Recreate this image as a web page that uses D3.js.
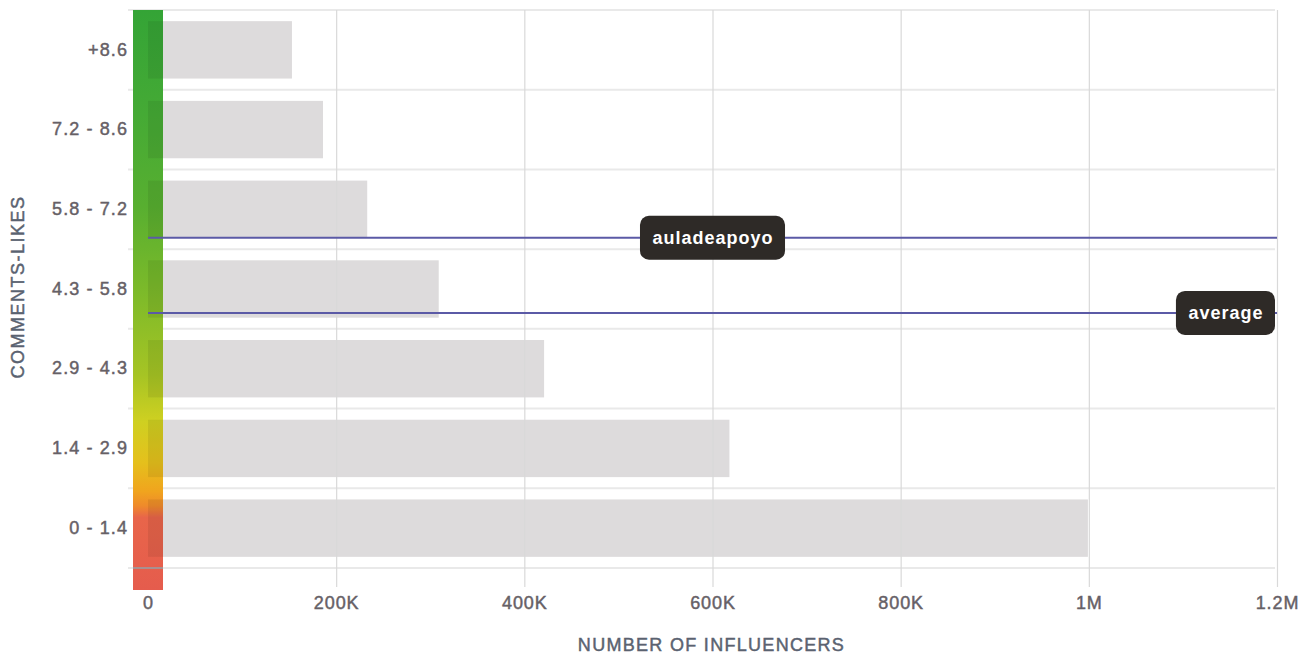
<!DOCTYPE html>
<html>
<head>
<meta charset="utf-8">
<script src="https://cdn.jsdelivr.net/npm/d3@7"></script>
<style>
  html, body { margin: 0; padding: 0; background: #fff; }
  svg { display: block; font-family: "Liberation Sans", Arial, Helvetica, sans-serif; }
  .heavy { stroke-width: 0.45px; paint-order: stroke; }
</style>
</head>
<body>
<svg id="chart" width="1310" height="656"></svg>
<script>
// Engagement buckets (comments-likes), listed top to bottom
const categories = ["+8.6", "7.2 - 8.6", "5.8 - 7.2", "4.3 - 5.8", "2.9 - 4.3", "1.4 - 2.9", "0 - 1.4"];
// Number of influencers in each bucket
const influencers = [153000, 186000, 233000, 309000, 421000, 618000, 999000];
// Bucket boundaries, bottom to top, for placing reference lines
const bucketBounds = [0, 1.4, 2.9, 4.3, 5.8, 7.2, 8.6, 10];
// Reference markers
const markerNames = ["auladeapoyo", "average"];
const markerValues = [6.0, 4.6];
const markerLabelAt = [600000, 1200000];
// X axis ticks
const xTicks = [0, 200000, 400000, 600000, 800000, 1000000, 1200000];

const svg = d3.select("#chart");
const plotLeft = 148, plotRight = 1277, plotTop = 10, plotBottom = 568;
const bandX = 133, bandW = 30, bandBottom = 590;
const labelGrey = "#666066", titleGrey = "#5a6270";

const x = d3.scaleLinear().domain([0, 1200000]).range([plotLeft, plotRight]);
const y = d3.scaleBand().domain(categories).range([plotTop, plotBottom])
  .paddingInner(0.28).paddingOuter(0.14);

// Row boundaries (bottom to top) for a continuous value scale
const rowEdges = d3.range(categories.length + 1).map(i => plotBottom - i * y.step());
const yVal = d3.scaleLinear().domain(bucketBounds).range(rowEdges);

const fmt = v => v === 0 ? "0" : d3.format("~s")(v).replace("k", "K");

// Horizontal grid lines at row edges
svg.append("g").selectAll("line").data(rowEdges).join("line")
  .attr("x1", 128).attr("x2", plotRight - 2)
  .attr("y1", d => d).attr("y2", d => d)
  .attr("stroke", "#e9e9e9").attr("stroke-width", 2);

// Bars
svg.append("g").selectAll("rect").data(categories).join("rect")
  .attr("x", x(0))
  .attr("y", d => y(d))
  .attr("width", (d, i) => x(influencers[i]) - x(0))
  .attr("height", y.bandwidth())
  .attr("fill", "#dddbdc");

// X axis with full-height grid lines
const xAxis = svg.append("g")
  .attr("transform", `translate(0,${plotBottom + 19})`)
  .call(d3.axisBottom(x).tickValues(xTicks).tickFormat(fmt)
    .tickSize(-(plotBottom + 19 - plotTop)).tickPadding(9));
xAxis.select(".domain").remove();
xAxis.selectAll(".tick line").attr("stroke", "#d9d9d9").attr("stroke-width", 1.2);
xAxis.selectAll(".tick text")
  .attr("class", "heavy").attr("stroke", labelGrey)
  .attr("fill", labelGrey).attr("font-size", 18).attr("letter-spacing", "0.9px");

// Colour scale band along the y axis
const defs = svg.append("defs");
const grad = defs.append("linearGradient").attr("id", "scoreGrad")
  .attr("x1", 0).attr("x2", 0).attr("y1", 0).attr("y2", 1);
const stops = [
  [0.00, "#34a436"], [0.18, "#45aa35"], [0.34, "#58af30"], [0.50, "#80bb29"],
  [0.63, "#a6c424"], [0.71, "#cfd021"], [0.78, "#e5c01c"], [0.83, "#f0a41e"],
  [0.855, "#ef8a2b"], [0.875, "#e8654a"], [1.00, "#e55c4d"]
];
grad.selectAll("stop").data(stops).join("stop")
  .attr("offset", d => d[0]).attr("stop-color", d => d[1]);

svg.append("rect")
  .attr("x", bandX).attr("y", plotTop).attr("width", bandW).attr("height", bandBottom - plotTop)
  .attr("fill", "url(#scoreGrad)");

// Slight shade where the bars run under the band
svg.append("g").selectAll("rect").data(categories).join("rect")
  .attr("x", x(0)).attr("y", d => y(d))
  .attr("width", bandX + bandW - x(0)).attr("height", y.bandwidth())
  .attr("fill", "#000").attr("opacity", 0.07);

// Baseline across the colour band
svg.append("line")
  .attr("x1", bandX).attr("x2", bandX + bandW).attr("y1", plotBottom).attr("y2", plotBottom)
  .attr("stroke", "#a89090").attr("stroke-width", 2);

// Y axis labels
const yAxis = svg.append("g").attr("transform", `translate(${bandX},0)`)
  .call(d3.axisLeft(y).tickSize(0).tickPadding(5));
yAxis.select(".domain").remove();
yAxis.selectAll(".tick text")
  .attr("class", "heavy").attr("stroke", labelGrey)
  .attr("fill", labelGrey).attr("font-size", 18).attr("letter-spacing", "1.1px");

// Reference lines with labels
const markers = svg.append("g");
markerNames.forEach((name, i) => {
  const yy = yVal(markerValues[i]);
  markers.append("line")
    .attr("x1", x(0)).attr("x2", plotRight)
    .attr("y1", yy).attr("y2", yy)
    .attr("stroke", "#5b5aa6").attr("stroke-width", 2);
});
markerNames.forEach((name, i) => {
  const yy = yVal(markerValues[i]);
  const g = markers.append("g");
  const t = g.append("text")
    .attr("y", yy).attr("dy", "0.36em")
    .attr("fill", "#ffffff").attr("font-size", 18).attr("font-weight", "bold")
    .attr("letter-spacing", "1px")
    .text(name);
  const w = t.node().getComputedTextLength() + 24;
  let cx = x(markerLabelAt[i]);
  if (cx + w / 2 > plotRight - 2) cx = plotRight - 2 - w / 2;
  t.attr("x", cx + 0.5).attr("text-anchor", "middle");
  g.insert("rect", "text")
    .attr("x", cx - w / 2).attr("y", yy - 22)
    .attr("width", w).attr("height", 44)
    .attr("rx", 9).attr("fill", "#2e2a27");
});

// Axis titles
svg.append("text")
  .attr("class", "heavy").attr("stroke", titleGrey)
  .attr("x", (plotLeft + plotRight) / 2 - 1).attr("y", 651)
  .attr("text-anchor", "middle")
  .attr("fill", titleGrey).attr("font-size", 18).attr("letter-spacing", "1.3px")
  .text("NUMBER OF INFLUENCERS");

svg.append("text")
  .attr("class", "heavy").attr("stroke", titleGrey)
  .attr("transform", `translate(24,${(plotTop + plotBottom) / 2 - 2}) rotate(-90)`)
  .attr("text-anchor", "middle")
  .attr("fill", titleGrey).attr("font-size", 18).attr("letter-spacing", "1.5px")
  .text("COMMENTS-LIKES");
</script>
</body>
</html>
